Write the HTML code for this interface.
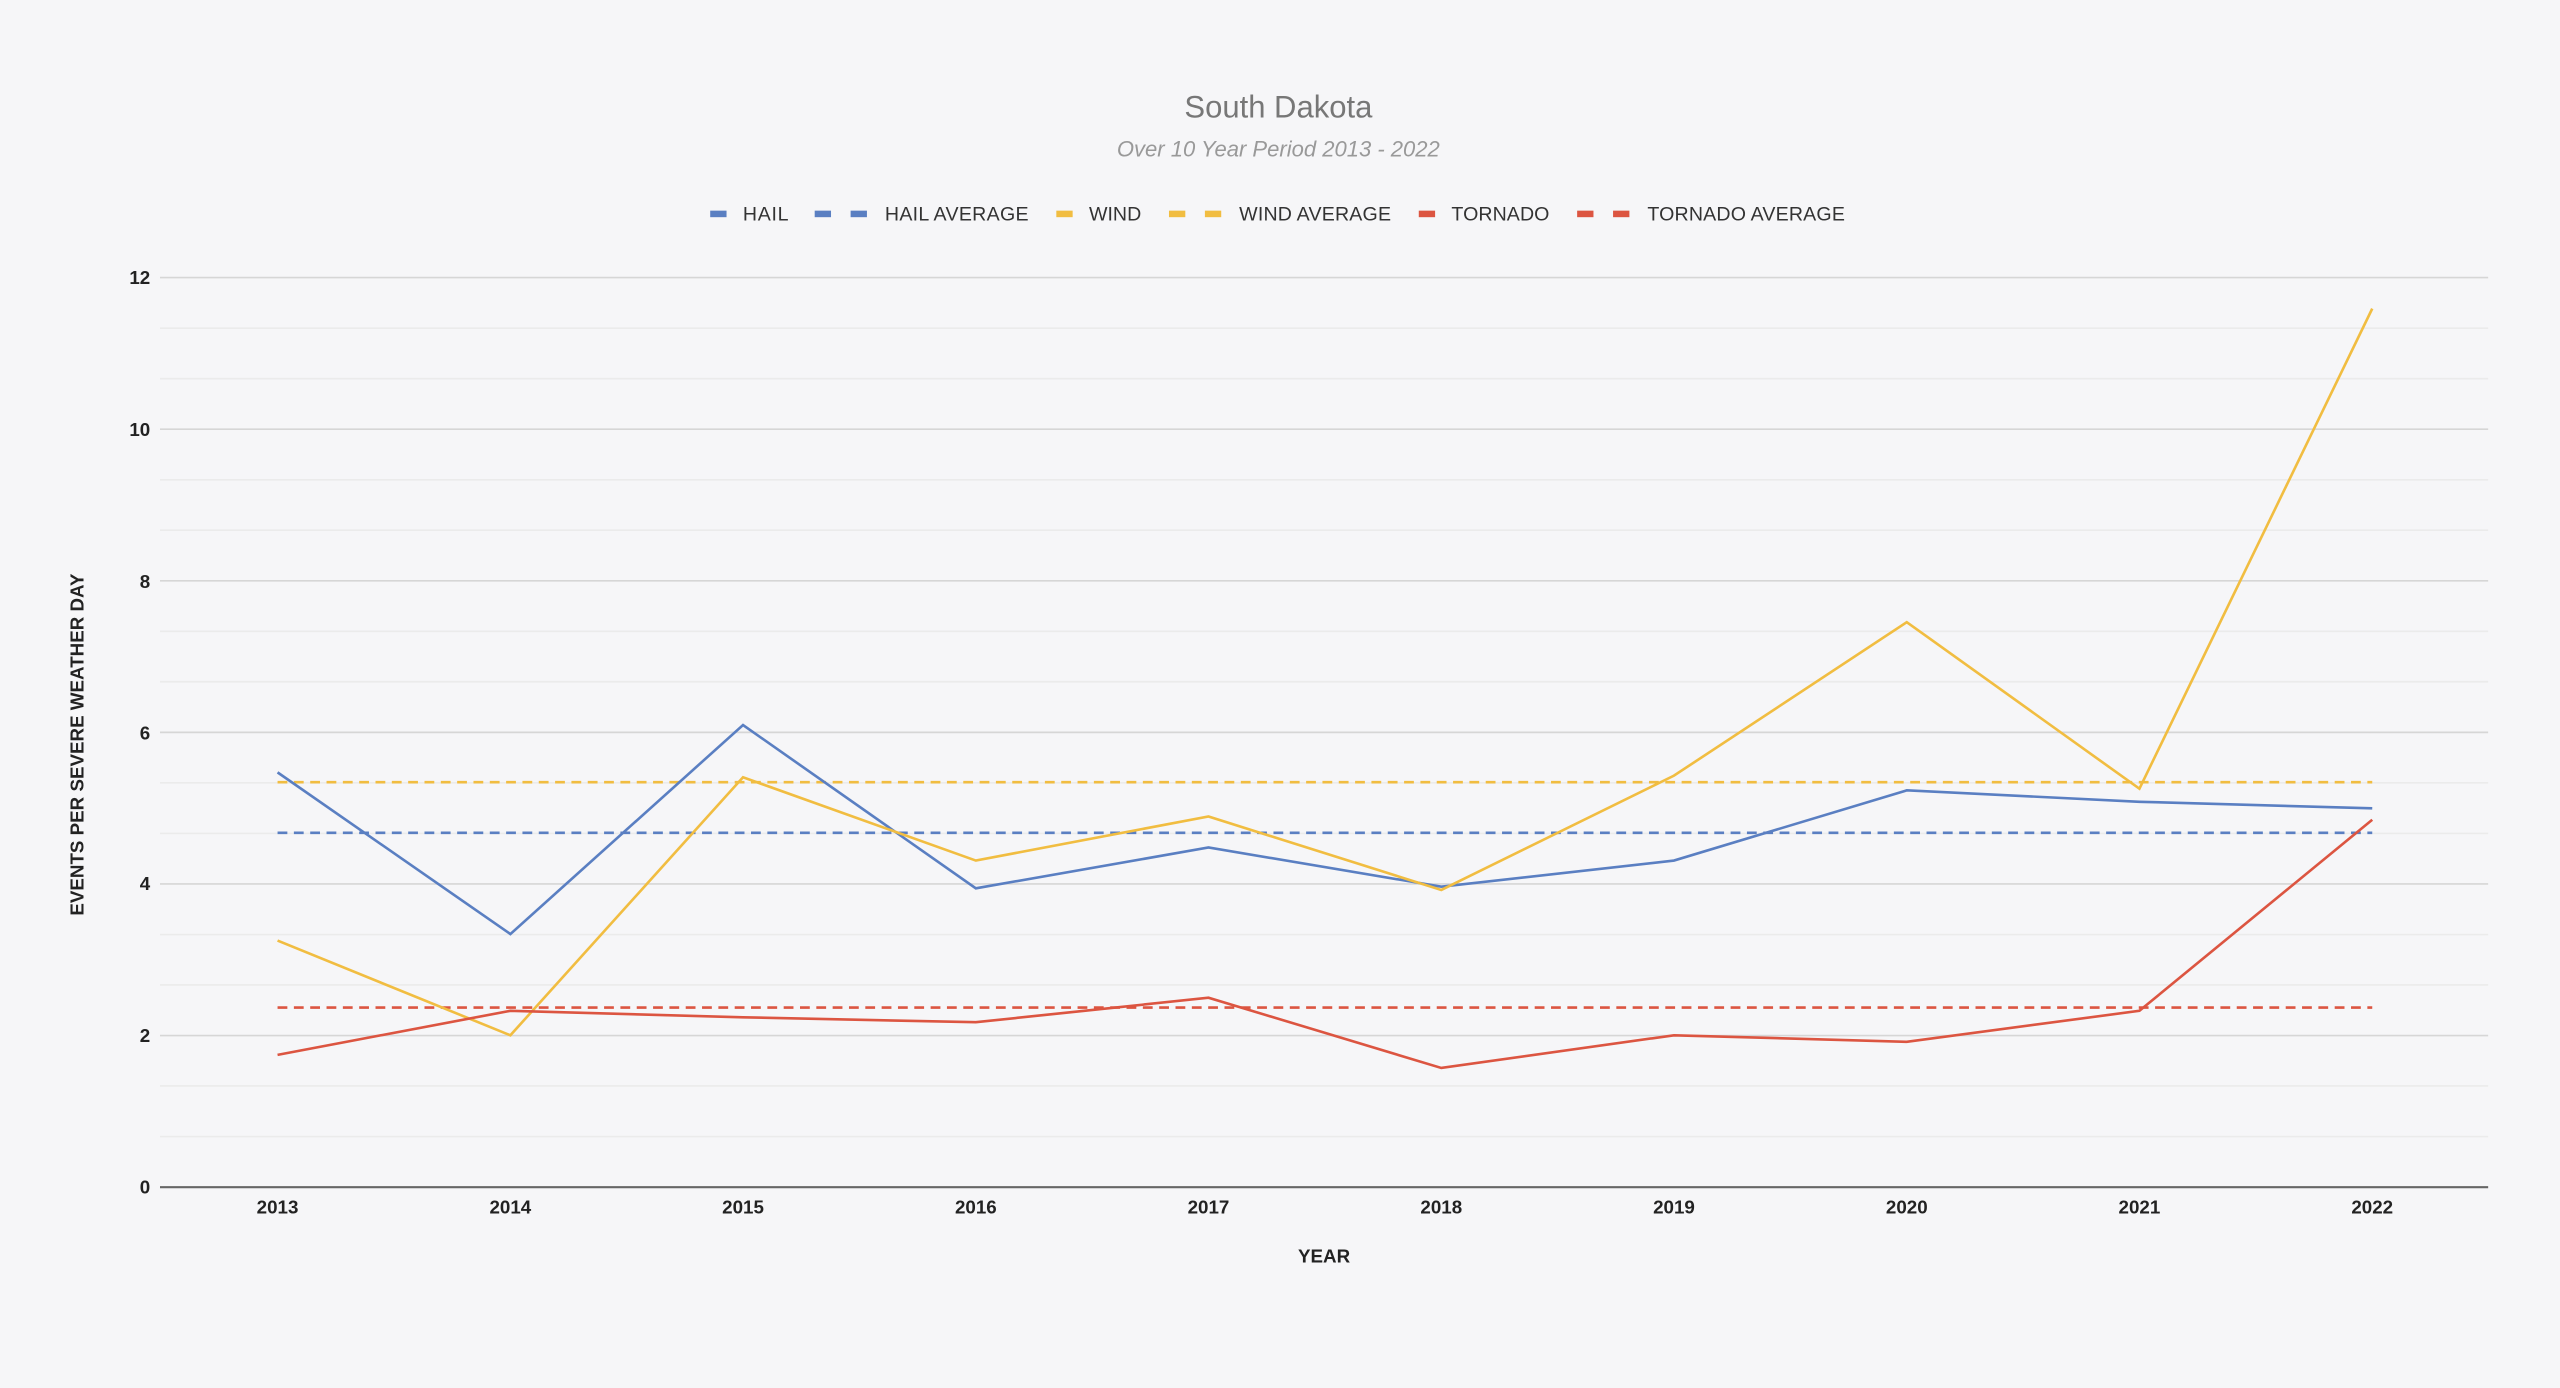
<!DOCTYPE html>
<html><head><style>html,body{margin:0;padding:0;background:#f6f6f8;}svg{display:block}</style></head>
<body>
<svg width="2560" height="1388" viewBox="0 0 1568 850" preserveAspectRatio="none" xmlns="http://www.w3.org/2000/svg" font-family="Liberation Sans, Arial, sans-serif">
<rect width="1568" height="850" fill="#f6f6f8"/>
<text x="783" y="72" text-anchor="middle" font-size="19" fill="#777">South Dakota</text>
<text x="783" y="96" text-anchor="middle" font-size="13.5" font-style="italic" fill="#999">Over 10 Year Period 2013 - 2022</text>
<g font-size="12" fill="#333">
<rect x="435" y="129" width="10" height="4" fill="#5a7fc2"/><text x="455" y="135" textLength="28">HAIL</text>
<rect x="499" y="129" width="10" height="4" fill="#5a7fc2"/><rect x="521" y="129" width="10" height="4" fill="#5a7fc2"/><text x="542" y="135" textLength="88">HAIL AVERAGE</text>
<rect x="647" y="129" width="10" height="4" fill="#f1bd41"/><text x="667" y="135" textLength="32">WIND</text>
<rect x="716" y="129" width="10" height="4" fill="#f1bd41"/><rect x="738" y="129" width="10" height="4" fill="#f1bd41"/><text x="759" y="135" textLength="93">WIND AVERAGE</text>
<rect x="869" y="129" width="10" height="4" fill="#dc5541"/><text x="889" y="135" textLength="60">TORNADO</text>
<rect x="966" y="129" width="10" height="4" fill="#dc5541"/><rect x="988" y="129" width="10" height="4" fill="#dc5541"/><text x="1009" y="135" textLength="121">TORNADO AVERAGE</text>
</g>
<g stroke="#ebebeb" stroke-width="1">
<line x1="98" x2="1524" y1="603.2" y2="603.2"/><line x1="98" x2="1524" y1="572.3" y2="572.3"/><line x1="98" x2="1524" y1="696" y2="696"/><line x1="98" x2="1524" y1="665" y2="665"/>
<line x1="98" x2="1524" y1="510.4" y2="510.4"/><line x1="98" x2="1524" y1="479.4" y2="479.4"/><line x1="98" x2="1524" y1="417.5" y2="417.5"/><line x1="98" x2="1524" y1="386.6" y2="386.6"/>
<line x1="98" x2="1524" y1="324.7" y2="324.7"/><line x1="98" x2="1524" y1="293.8" y2="293.8"/><line x1="98" x2="1524" y1="231.9" y2="231.9"/><line x1="98" x2="1524" y1="201" y2="201"/>
</g>
<g stroke="#d6d6d6" stroke-width="1">
<line x1="98" x2="1524" y1="634.2" y2="634.2"/><line x1="98" x2="1524" y1="541.3" y2="541.3"/><line x1="98" x2="1524" y1="448.5" y2="448.5"/><line x1="98" x2="1524" y1="355.7" y2="355.7"/><line x1="98" x2="1524" y1="262.8" y2="262.8"/><line x1="98" x2="1524" y1="170" y2="170"/>
</g>
<line x1="98" x2="1524" y1="727" y2="727" stroke="#666" stroke-width="1.3"/>
<g font-size="11.5" font-weight="bold" fill="#222" text-anchor="end">
<text x="92" y="731">0</text><text x="92" y="638">2</text><text x="92" y="545">4</text><text x="92" y="453">6</text><text x="92" y="360">8</text><text x="92" y="267">10</text><text x="92" y="174">12</text>
</g>
<g font-size="11.5" font-weight="bold" fill="#222" text-anchor="middle">
<text x="170" y="743">2013</text><text x="312.6" y="743">2014</text><text x="455.1" y="743">2015</text><text x="597.7" y="743">2016</text><text x="740.2" y="743">2017</text><text x="882.8" y="743">2018</text><text x="1025.3" y="743">2019</text><text x="1167.9" y="743">2020</text><text x="1310.4" y="743">2021</text><text x="1453" y="743">2022</text>
<text x="811" y="773">YEAR</text>
<text transform="translate(51,456) rotate(-90)">EVENTS PER SEVERE WEATHER DAY</text>
</g>
<g fill="none" stroke-width="1.6">
<line x1="170" x2="1453" y1="510" y2="510" stroke="#5a7fc2" stroke-dasharray="6,4"/>
<line x1="170" x2="1453" y1="479" y2="479" stroke="#f1bd41" stroke-dasharray="6,4"/>
<line x1="170" x2="1453" y1="617" y2="617" stroke="#dc5541" stroke-dasharray="6,4"/>
<polyline stroke="#5a7fc2" points="170,473 312.6,572 455.1,444 597.7,544 740.2,519 882.8,543 1025.3,527 1167.9,484 1310.4,491 1453,495"/>
<polyline stroke="#f1bd41" points="170,576 312.6,634 455.1,476 597.7,527 740.2,500 882.8,545 1025.3,475 1167.9,381 1310.4,483 1453,189"/>
<polyline stroke="#dc5541" points="170,646 312.6,619 455.1,623 597.7,626 740.2,611 882.8,654 1025.3,634 1167.9,638 1310.4,619 1453,502"/>
</g>
</svg>
</body></html>
